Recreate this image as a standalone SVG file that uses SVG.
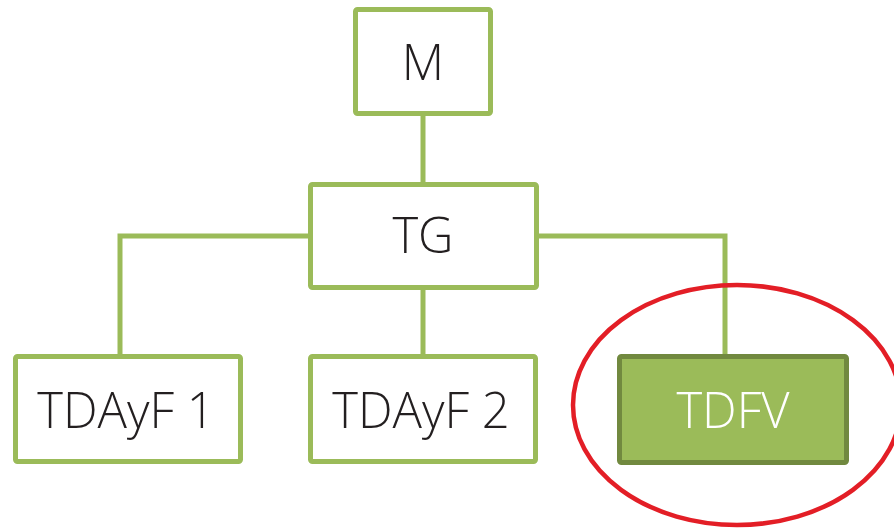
<svg xmlns="http://www.w3.org/2000/svg" width="894" height="529" viewBox="0 0 894 529">
  <style>
    .box { fill: #ffffff; stroke: #9bbb59; stroke-width: 5; }
    .hl { fill: #9bbb59; stroke: #71893f; stroke-width: 5; }
    .lbl { font-family: "Open Sans", "Liberation Sans", sans-serif; font-weight: 300; font-size: 49px; fill: #231f20; text-anchor: middle; }
    .lbl-w { fill: #ffffff; }
    .wire { fill: none; stroke: #9bbb59; stroke-width: 5; }
  </style>
  <rect width="894" height="529" fill="#ffffff"/>

  <g id="connectors">
    <line class="wire" x1="423" y1="113" x2="423" y2="185"/>
    <polyline class="wire" points="310,236 120,236 120,357"/>
    <polyline class="wire" points="537,236 725,236 725,357"/>
    <line class="wire" x1="423" y1="287" x2="423" y2="357"/>
  </g>

  <g id="node-m">
    <rect class="box" x="355.5" y="9.5" width="135" height="104" rx="2"/>
    <text class="lbl" x="423" y="80">M</text>
  </g>
  <g id="node-tg">
    <rect class="box" x="310.5" y="184.5" width="226" height="103" rx="2"/>
    <text class="lbl" x="423" y="253">TG</text>
  </g>
  <g id="node-tdayf1">
    <rect class="box" x="15.5" y="356.5" width="225" height="105" rx="2"/>
    <text class="lbl" x="126" y="428">TDAyF 1</text>
  </g>
  <g id="node-tdayf2">
    <rect class="box" x="310.5" y="356.5" width="225" height="105" rx="2"/>
    <text class="lbl" x="421" y="428">TDAyF 2</text>
  </g>
  <g id="node-tdfv">
    <rect class="hl" x="619.5" y="356.5" width="227" height="106" rx="2"/>
    <text class="lbl lbl-w" x="733" y="428">TDFV</text>
  </g>

  <ellipse cx="737" cy="405" rx="164" ry="120" fill="none" stroke="#e31e26" stroke-width="4.5"/>
</svg>
